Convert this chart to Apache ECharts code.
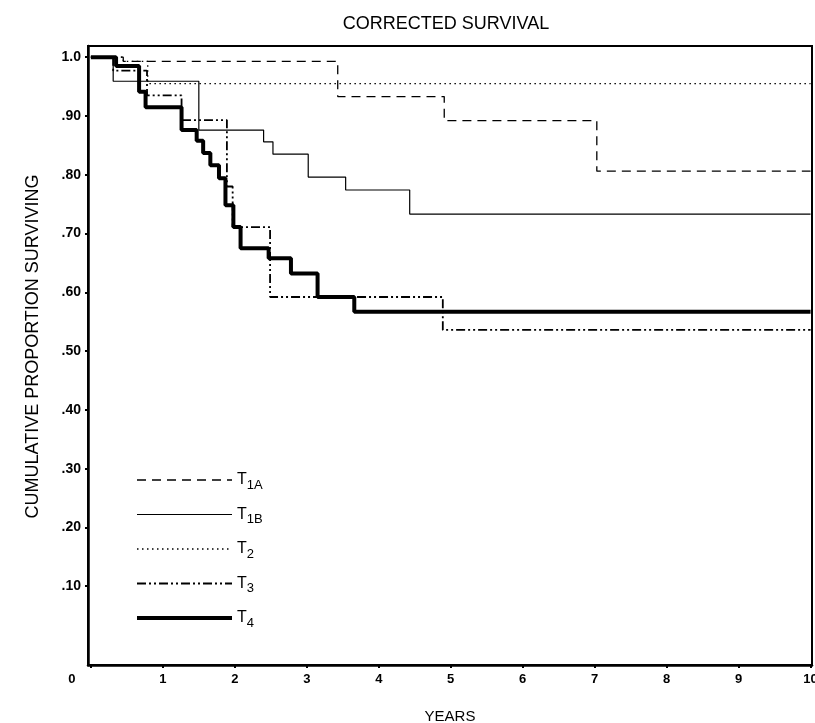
<!DOCTYPE html>
<html>
<head>
<meta charset="UTF-8">
<script type="text/javascript" src="https://cdn.jsdelivr.net/npm/echarts@6/dist/echarts.min.js"></script>
<title>Corrected Survival</title>
</head>
<body style="margin:0;background:#fff">
	<div id="main" style="width:815px;height:723px;"></div>
	<script type="text/javascript">
		// step times (years) and survival proportion after each step
		var t1aX = [0, 0.45, 3.43, 4.91, 7.03, 10];
		var t1aY = [1.0, 0.993, 0.933, 0.892, 0.806, 0.806];

		var t1bX = [0, 0.31, 1.50, 2.40, 2.53, 3.02, 3.54, 4.43, 10];
		var t1bY = [1.0, 0.959, 0.876, 0.856, 0.835, 0.796, 0.774, 0.733, 0.733];

		var t2X = [0, 0.45, 0.79, 10];
		var t2Y = [1.0, 0.993, 0.955, 0.955];

		var t3X = [0, 0.31, 0.78, 1.26, 1.89, 1.97, 2.49, 4.89, 10];
		var t3Y = [1.0, 0.977, 0.935, 0.893, 0.78, 0.711, 0.592, 0.536, 0.536];

		var t4X = [0, 0.35, 0.67, 0.76, 1.26, 1.47, 1.56, 1.66, 1.78, 1.87, 1.98, 2.08, 2.47, 2.78, 3.15, 3.66, 10];
		var t4Y = [1.0, 0.985, 0.941, 0.915, 0.876, 0.858, 0.837, 0.816, 0.794, 0.748, 0.711, 0.675, 0.658, 0.632, 0.592, 0.567, 0.567];

		var xTicks = [0, 1, 2, 3, 4, 5, 6, 7, 8, 9, 10];
		var yTicks = [0.1, 0.2, 0.3, 0.4, 0.5, 0.6, 0.7, 0.8, 0.9, 1.0];

		function zip(xs, ys) {
			var out = [];
			for (var i = 0; i < xs.length; i++) out.push([xs[i], ys[i]]);
			return out;
		}

		var myChart = echarts.init(document.getElementById("main"));
		var font = 'Liberation Sans, Arial, sans-serif';

		var styles = {
			T1A: { width: 1.3, type: [9, 6] },
			T1B: { width: 1.2, type: 'solid' },
			T2: { width: 1.3, type: [1.5, 3.5] },
			T3: { width: 1.8, type: [9, 3, 2, 3, 2, 3] },
			T4: { width: 4, type: 'solid' }
		};

		function mkSeries(name, xs, ys) {
			return {
				name: name,
				type: 'line',
				step: 'end',
				symbol: 'none',
				silent: true,
				color: '#000',
				data: zip(xs, ys),
				lineStyle: { color: '#000', width: styles[name].width, type: styles[name].type, cap: 'butt' }
			};
		}

		var legendData = ['T1A', 'T1B', 'T2', 'T3', 'T4'].map(function (n) {
			return {
				name: n,
				itemStyle: { opacity: 0 },
				lineStyle: { color: '#000', width: styles[n].width, type: styles[n].type }
			};
		});

		var option = {
			backgroundColor: '#fff',
			animation: false,
			title: {
				text: 'CORRECTED SURVIVAL',
				left: 441,
				textAlign: 'center',
				top: 10,
				textStyle: { fontFamily: font, fontSize: 18, fontWeight: 'normal', color: '#000' }
			},
			legend: {
				orient: 'vertical',
				left: 130,
				top: 467,
				itemWidth: 95,
				itemHeight: 14,
				itemGap: 15,
				data: legendData,
				formatter: function (name) {
					return '{t|T}{s|' + name.slice(1) + '}';
				},
				textStyle: {
					color: '#000',
					rich: {
						t: { fontFamily: font, fontSize: 16, color: '#000' },
						s: { fontFamily: font, fontSize: 13, color: '#000', padding: [10, 0, 0, 0] }
					}
				}
			},
			grid: {
				left: 88, right: 3, top: 46, bottom: 58,
				outerBoundsMode: 'none',
				containLabel: false,
				show: true, borderColor: '#000', borderWidth: 2
			},
			xAxis: {
				type: 'value',
				min: -0.04, max: 10.02,
				name: 'YEARS',
				nameLocation: 'middle',
				nameGap: 44,
				nameTextStyle: { fontFamily: font, fontSize: 15, color: '#000' },
				splitLine: { show: false },
				axisLine: { onZero: false, lineStyle: { color: '#000', width: 2.5 } },
				axisTick: { length: 3, customValues: xTicks, lineStyle: { color: '#000', width: 2 } },
				axisLabel: {
					customValues: xTicks,
					margin: 8,
					fontFamily: font, fontSize: 13, fontWeight: 'bold', color: '#000',
					formatter: function (v) { return v === 0 ? '{z|0}' : String(v); },
					rich: { z: { fontFamily: font, fontSize: 13, fontWeight: 'bold', color: '#000', padding: [0, 38, 0, 0] } }
				}
			},
			yAxis: {
				type: 'value',
				min: -0.034, max: 1.019,
				name: 'CUMULATIVE PROPORTION SURVIVING',
				nameLocation: 'middle',
				nameGap: 46,
				nameTextStyle: { fontFamily: font, fontSize: 18, color: '#000', padding: [0, 0, 0, 18] },
				splitLine: { show: false },
				axisLine: { onZero: false, lineStyle: { color: '#000', width: 2.5 } },
				axisTick: { length: 3, customValues: yTicks, lineStyle: { color: '#000', width: 2 } },
				axisLabel: {
					customValues: yTicks,
					margin: 7,
					fontFamily: font, fontSize: 14, fontWeight: 'bold', color: '#000',
					formatter: function (v) {
						return v >= 0.999 ? '1.0' : '.' + Math.round(v * 100);
					}
				}
			},
			series: [
				mkSeries('T1A', t1aX, t1aY),
				mkSeries('T1B', t1bX, t1bY),
				mkSeries('T2', t2X, t2Y),
				mkSeries('T3', t3X, t3Y),
				mkSeries('T4', t4X, t4Y)
			]
		};
		myChart.setOption(option);
	</script>
</body>
</html>
